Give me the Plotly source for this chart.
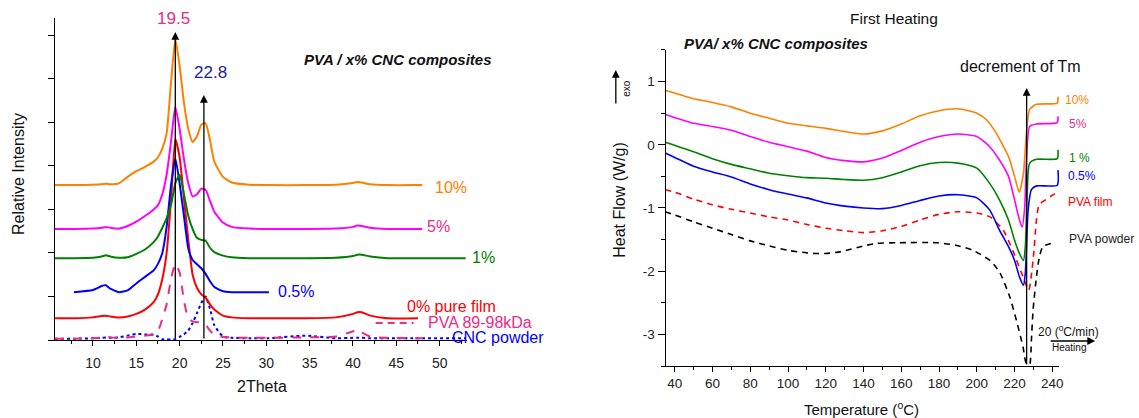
import plotly.graph_objects as go

# ---------------- XRD data (left panel) ----------------
two_theta = [5.6, 7.8, 10, 11, 11.5, 12, 13, 14, 15, 16, 17, 17.5, 18, 18.5, 19, 19.5, 20, 20.5,
             21, 21.5, 22, 22.5, 23, 23.5, 24, 25, 26, 28, 30.3, 34.5, 38, 40, 40.5, 41, 42, 44,
             47.5, 48, 53]
xrd_10 = [3.56, 3.56, 3.57, 3.58, 3.59, 3.58, 3.6, 3.75, 3.88, 3.98, 4.1, 4.2, 4.4, 4.75, 5.9, 6.92,
          6.3, 5.45, 4.85, 4.55, 4.68, 4.95, 4.98, 4.6, 4.1, 3.75, 3.62, 3.57, 3.56, 3.56, 3.57, 3.61,
          3.63, 3.62, 3.58, 3.56, 3.56, 3.56, None]
xrd_5 = [2.55, 2.55, 2.56, 2.58, 2.6, 2.58, 2.56, 2.62, 2.72, 2.85, 3.0, 3.1, 3.35, 3.8, 4.55, 5.36,
         4.85, 4.15, 3.6, 3.3, 3.35, 3.48, 3.45, 3.2, 2.95, 2.7, 2.6, 2.56, 2.55, 2.55, 2.56, 2.6,
         2.63, 2.62, 2.58, 2.55, 2.55, 2.55, None]
xrd_1 = [1.88, 1.88, 1.89, 1.92, 1.95, 1.92, 1.89, 1.9, 1.98, 2.08, 2.25, 2.38, 2.58, 2.8, 3.1, 3.6,
         3.8, 3.35, 2.85, 2.55, 2.35, 2.3, 2.28, 2.12, 2.02, 1.94, 1.9, 1.88, 1.88, 1.88, 1.89, 1.93,
         1.96, 1.96, 1.92, 1.88, 1.88, 1.88, 1.88]
xrd_05 = [None, 1.1, 1.15, 1.24, 1.26, 1.18, 1.1, 1.14, 1.3, 1.45, 1.6, 1.75, 2.0, 2.6, 3.55, 4.18,
          3.6, 2.85, 2.1, 1.84, 1.74, 1.65, 1.52, 1.35, 1.22, 1.12, 1.1, 1.1, 1.1, None, None, None,
          None, None, None, None, None, None, None]
xrd_0 = [0.5, 0.5, 0.52, 0.55, 0.56, 0.54, 0.52, 0.54, 0.6, 0.7, 0.87, 1.05, 1.4, 2.0, 3.2, 4.62,
         4.2, 3.25, 2.3, 1.5, 1.2, 1.05, 0.97, 0.82, 0.7, 0.56, 0.52, 0.5, 0.5, 0.5, 0.52, 0.6,
         0.64, 0.64, 0.56, 0.5, 0.5, None, None]
xrd_pva = [0.03, 0.03, 0.04, 0.06, 0.1, 0.06, 0.05, 0.06, 0.08, 0.1, 0.13, 0.2, 0.48, 0.82, 1.4, 1.75,
           1.55, 0.9, 0.5, 0.43, 0.41, 0.41, 0.35, 0.22, 0.12, 0.07, 0.06, 0.05, 0.05, 0.06, 0.08,
           0.2, 0.25, 0.18, 0.08, 0.05, 0.04, 0.04, None]
xrd_cnc = [0.03, 0.03, 0.04, 0.05, 0.06, 0.05, 0.06, 0.1, 0.14, 0.13, 0.12, 0.08, 0.02, 0.01, 0.01,
           0.02, 0.07, 0.13, 0.22, 0.39, 0.62, 0.85, 1.0, 0.72, 0.34, 0.08, 0.05, 0.04, 0.04, 0.1,
           0.04, 0.05, 0.05, 0.05, 0.04, 0.04, 0.04, 0.04, 0.04]
xrd_ticks = [10, 15, 20, 25, 30, 35, 40, 45, 50]
peak_1, peak_2 = 19.5, 22.8

# ---------------- DSC data (right panel) ----------------
T_10 = [35, 40, 50, 60, 70, 80, 90, 100, 110, 120, 130, 140, 150, 160, 170, 180, 190, 200, 205, 210,
        214, 217, 220, 222.5, 224.7, 226.3, 228, 231.6, 242.6, 243]
hf_10 = [0.86, 0.82, 0.73, 0.67, 0.6, 0.5, 0.42, 0.34, 0.3, 0.26, 0.21, 0.17, 0.22, 0.33, 0.46, 0.54,
         0.57, 0.5, 0.4, 0.2, -0.02, -0.2, -0.5, -0.75, -0.45, 0.19, 0.56, 0.64, 0.66, 0.76]
T_5 = [35, 50, 60, 70, 80, 90, 100, 110, 120, 130, 140, 150, 160, 170, 180, 190, 200, 206.8, 212,
       216.8, 220, 222.6, 224, 225.4, 226.3, 228, 231.6, 242.6, 243]
hf_5 = [0.48, 0.34, 0.29, 0.23, 0.13, 0.04, -0.03, -0.1, -0.2, -0.25, -0.27, -0.21, -0.09, 0.04, 0.13,
        0.17, 0.13, -0.03, -0.24, -0.5, -0.87, -1.19, -1.3, -0.98, -0.24, 0.29, 0.33, 0.35, 0.45]
T_1 = [35, 50, 60, 70, 80, 90, 100, 110, 120, 130, 140, 150, 160, 170, 180, 190, 200, 206.8, 212,
       216.8, 220, 222.6, 224.7, 225.7, 226.7, 228, 231.6, 242.6, 243]
hf_1 = [0.04, -0.11, -0.22, -0.31, -0.38, -0.45, -0.49, -0.52, -0.53, -0.55, -0.56, -0.52, -0.43,
        -0.33, -0.28, -0.29, -0.37, -0.61, -0.87, -1.19, -1.51, -1.72, -1.83, -1.61, -0.77, -0.29,
        -0.23, -0.22, -0.08]
T_05 = [35, 40, 50, 60, 70, 80, 90, 100, 110, 120, 130, 140, 150, 160, 170, 180, 190, 200, 206.8,
        212, 216.8, 220, 222.6, 224.7, 225.7, 227.2, 228.9, 231.6, 242.6, 243]
hf_05 = [-0.13, -0.2, -0.34, -0.43, -0.51, -0.62, -0.71, -0.78, -0.84, -0.92, -0.97, -1.0, -1.01,
         -0.96, -0.88, -0.81, -0.79, -0.84, -1.03, -1.35, -1.61, -1.83, -2.09, -2.22, -2.03, -1.03,
         -0.71, -0.65, -0.64, -0.4]
T_film = [35, 40, 50, 60, 70, 80, 90, 100, 110, 120, 130, 140, 150, 160, 170, 180, 190, 200, 207,
          214, 219, 224.5, 227.5, 229.8, 231.6, 233, 236, 240, 243]
hf_film = [-0.71, -0.75, -0.86, -0.95, -1.02, -1.08, -1.14, -1.19, -1.26, -1.32, -1.36, -1.39, -1.36,
           -1.29, -1.19, -1.1, -1.06, -1.08, -1.14, -1.35, -1.67, -2.09, -2.3, -1.83, -1.19, -0.95,
           -0.88, -0.8, -0.74]
T_powder = [35, 40, 50, 60, 70, 80, 90, 100, 110, 115, 120, 128, 140, 147, 158, 179, 189, 198, 207,
            212, 217.5, 221, 224.5, 226.3, 228, 228.9, 229.8, 231.6, 233, 235, 240.5]
hf_powder = [-1.06, -1.11, -1.22, -1.32, -1.42, -1.52, -1.6, -1.67, -1.71, -1.72, -1.72, -1.69, -1.6,
             -1.56, -1.55, -1.55, -1.59, -1.67, -1.83, -2.01, -2.41, -2.78, -3.2, -3.47, -3.47, -3.1,
             -2.62, -2.09, -1.8, -1.61, -1.55]
dsc_xticks = [40, 60, 80, 100, 120, 140, 160, 180, 200, 220, 240]
dsc_yticks = [-3, -2, -1, 0, 1]
Tm_mark = 226.4

FONT = "Arial, 'Liberation Sans', sans-serif"
ORANGE, MAGENTA, GREEN, BLUE, RED = "#ff8000", "#ff00ff", "#008000", "#0000ff", "#ff0000"
PINK, NAVY = "#ee2a85", "#20209a"

fig = go.Figure()

def xrd(y, color, dash="solid", width=2):
    fig.add_trace(go.Scatter(x=two_theta, y=y, mode="lines", xaxis="x", yaxis="y",
                             line=dict(color=color, width=width, dash=dash, shape="spline", smoothing=0.5),
                             connectgaps=False, hoverinfo="skip"))

xrd(xrd_cnc, BLUE, "dot", 2)
xrd(xrd_pva, PINK, "dash", 2)
xrd(xrd_0, RED)
xrd(xrd_05, BLUE)
xrd(xrd_1, GREEN)
xrd(xrd_5, MAGENTA)
xrd(xrd_10, ORANGE)

def dsc(T, y, color, dash="solid"):
    fig.add_trace(go.Scatter(x=T, y=y, mode="lines", xaxis="x2", yaxis="y2",
                             line=dict(color=color, width=1.6, dash=dash, shape="spline", smoothing=0.6),
                             hoverinfo="skip"))

dsc(T_powder, hf_powder, "black", "6px,5px")
dsc(T_film, hf_film, RED, "6px,5px")
dsc(T_05, hf_05, BLUE)
dsc(T_1, hf_1, GREEN)
dsc(T_5, hf_5, MAGENTA)
dsc(T_10, hf_10, ORANGE)

axis_common = dict(showline=True, linecolor="black", linewidth=1.2, ticks="outside", tickwidth=1,
                   tickcolor="black", showgrid=False, zeroline=False,
                   tickfont=dict(family=FONT, size=14, color="#222"))

fig.update_layout(
    width=1139, height=418, autosize=False,
    margin=dict(l=0, r=0, t=0, b=0),
    paper_bgcolor="white", plot_bgcolor="white", showlegend=False,
    xaxis=dict(axis_common, domain=[0.0483, 0.4118], range=[5.6, 53.2], anchor="y",
               tickvals=xrd_ticks, ticklen=5, ticklabelstandoff=5,
               minor=dict(ticks="outside", ticklen=3, dtick=2.5, tick0=0, tickcolor="black")),
    yaxis=dict(axis_common, domain=[0.1866, 0.9569], range=[0, 7.4], anchor="x",
               dtick=1, ticklen=6, showticklabels=False),
    xaxis2=dict(axis_common, domain=[0.5865, 0.9333], range=[35.2, 243.7], anchor="y2",
                tickvals=dsc_xticks, ticklen=5, tickfont=dict(family=FONT, size=13.5, color="#222"),
                minor=dict(ticks="outside", ticklen=3, dtick=10, tick0=0, tickcolor="black")),
    yaxis2=dict(axis_common, domain=[0.1244, 0.8804], range=[-3.5, 1.5], anchor="x2",
                tickvals=dsc_yticks, ticktext=[str(v) for v in dsc_yticks], ticklen=7,
                tickfont=dict(family=FONT, size=13.5, color="#222"),
                minor=dict(ticks="outside", ticklen=4, dtick=0.5, tick0=0, tickcolor="black")),
)

def txt(x, y, s, size, color="#111", xanchor="center", angle=0):
    fig.add_annotation(x=x, y=y, xref="paper", yref="paper", text=s, showarrow=False,
                       xanchor=xanchor, yanchor="middle", textangle=angle,
                       font=dict(family=FONT, size=size, color=color))

# left panel texts
txt(0.1528, 0.9569, "19.5", 17, PINK)
txt(0.1857, 0.8254, "22.8", 17, NAVY)
txt(0.3503, 0.8565, "<b><i>PVA / x% CNC composites</i></b>", 15, "#111")
txt(0.3977, 0.5526, "10%", 16, ORANGE)
txt(0.3863, 0.4593, "5%", 16, PINK)
txt(0.4258, 0.3828, "1%", 16, GREEN)
txt(0.2608, 0.3038, "0.5%", 16, BLUE)
txt(0.3977, 0.2656, "0% pure film", 16, RED)
txt(0.4232, 0.2273, "PVA 89-98kDa", 16, PINK)
txt(0.4390, 0.1914, "CNC powder", 16, BLUE)
txt(0.2305, 0.0742, "2Theta", 16, "#111")
txt(0.0158, 0.5837, "Relative Intensity", 16, "#111", angle=-90)
fig.add_shape(type="line", xref="paper", yref="paper", x0=377/1139, x1=415/1139,
              y0=1-323/418, y1=1-323/418, line=dict(color=PINK, width=2, dash="7px,5px"))

# right panel texts
txt(0.7875, 0.9569, "First Heating", 15.5, "#111")
txt(0.6839, 0.8971, "<b><i>PVA/ x% CNC composites</i></b>", 15, "#111")
txt(0.8995, 0.8421, "decrement of Tm", 16, "#111")
txt(0.5522, 0.7895, "exo", 10, "#111", angle=-90)
txt(0.5452, 0.5215, "Heat Flow (W/g)", 16, "#111", angle=-90)
txt(0.7594, 0.0239, "Temperature (<sup>o</sup>C)", 15, "#111")
txt(0.9368, 0.7608, "10%", 12, ORANGE, "left")
txt(0.9403, 0.7033, "5%", 12, PINK, "left")
txt(0.9403, 0.6220, "1 %", 12, GREEN, "left")
txt(0.9394, 0.5789, "0.5%", 12, BLUE, "left")
txt(0.9394, 0.5167, "PVA film", 12, RED, "left")
txt(0.9403, 0.4282, "PVA powder", 12, "#222", "left")
txt(0.9416, 0.2081, "20 (<sup>o</sup>C/min)", 12, "#111")
txt(0.9421, 0.1675, "Heating", 10, "#111")

# arrows
arrow = dict(showarrow=True, arrowhead=2, arrowsize=1.2, arrowwidth=1.3, arrowcolor="black", text="")
fig.add_annotation(arrow, x=peak_1, y=7.08, xref="x", yref="y", ax=peak_1, ay=0, axref="x", ayref="y")
fig.add_annotation(arrow, x=peak_2, y=5.63, xref="x", yref="y", ax=peak_2, ay=0, axref="x", ayref="y")
fig.add_annotation(arrow, x=Tm_mark, y=0.9, xref="x2", yref="y2", ax=Tm_mark, ay=-3.5, axref="x2", ayref="y2")
fig.add_annotation(arrow, x=618/1139, y=1-70/418, xref="paper", yref="paper", ax=0, ay=35)
fig.add_annotation(arrow, x=1099/1139, y=1-341/418, xref="paper", yref="paper", ax=-46, ay=0)

fig.write_html("out.html", config={"displayModeBar": False},
               post_script="document.body.style.margin='0';document.body.style.overflow='hidden';")
